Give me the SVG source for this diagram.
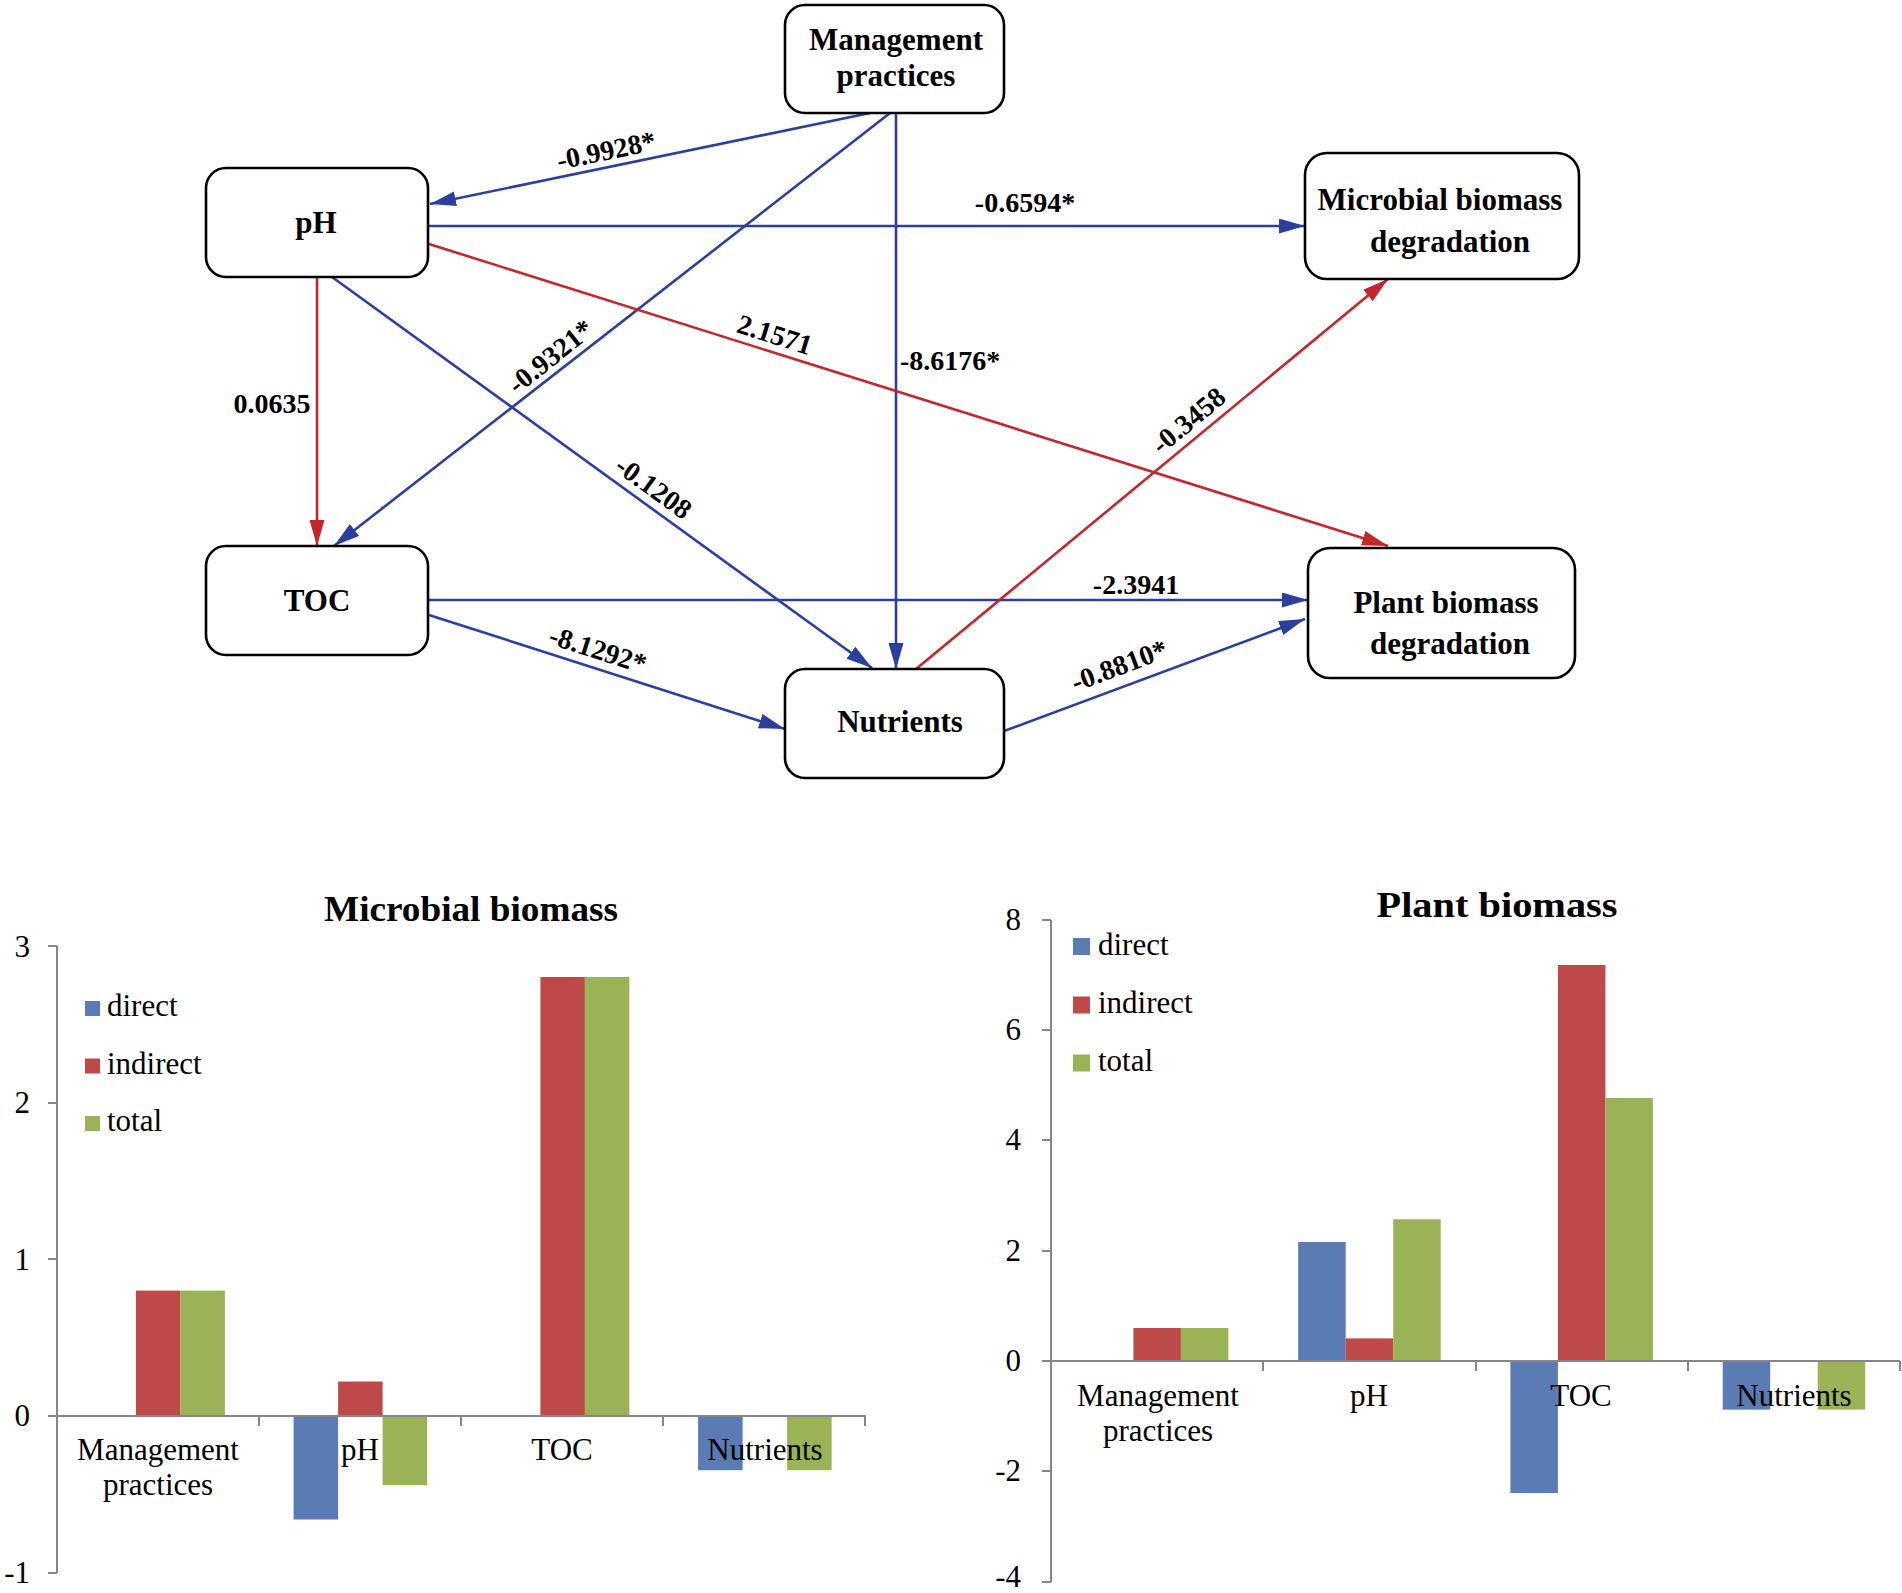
<svg xmlns="http://www.w3.org/2000/svg" width="1902" height="1593" viewBox="0 0 1902 1593">
<defs>
<style>
.box{fill:#fff;stroke:#000;stroke-width:2.6}
.nl{font-family:"Liberation Serif","Times New Roman",serif;font-weight:bold;font-size:31px;fill:#000;text-anchor:middle}
.el{font-family:"Liberation Serif","Times New Roman",serif;font-weight:bold;font-size:28px;fill:#000;text-anchor:middle}
.b{stroke:#2C3F9E;stroke-width:2.6;fill:none}
.r{stroke:#C1272D;stroke-width:2.6;fill:none}
.ct{font-family:"Liberation Serif","Times New Roman",serif;font-size:31px;fill:#000}
.tt{font-family:"Liberation Serif","Times New Roman",serif;font-weight:bold;font-size:36px;fill:#000;text-anchor:middle}
.ax{stroke:#868686;stroke-width:2;fill:none}
.cd{fill:#5A7BB3}
.ci{fill:#BD4A48}
.cg{fill:#9BB357}
</style>
<marker id="ab" markerUnits="userSpaceOnUse" markerWidth="28" markerHeight="16" refX="26" refY="7.5" orient="auto"><path d="M0,0 L26,7.5 L0,15 z" fill="#2C3F9E"/></marker>
<marker id="ar" markerUnits="userSpaceOnUse" markerWidth="28" markerHeight="16" refX="26" refY="7.5" orient="auto"><path d="M0,0 L26,7.5 L0,15 z" fill="#C1272D"/></marker>
</defs>
<rect width="1902" height="1593" fill="#fff"/>

<g id="connectors">
<line class="b" x1="870" y1="113" x2="430" y2="204" marker-end="url(#ab)"/>
<line class="b" x1="890" y1="113" x2="334" y2="546" marker-end="url(#ab)"/>
<line class="b" x1="896" y1="113" x2="896" y2="669" marker-end="url(#ab)"/>
<line class="b" x1="429" y1="226" x2="1305" y2="226" marker-end="url(#ab)"/>
<line class="r" x1="429" y1="244" x2="1388" y2="546" marker-end="url(#ar)"/>
<line class="r" x1="317" y1="277" x2="317" y2="546" marker-end="url(#ar)"/>
<line class="b" x1="332" y1="277" x2="872" y2="668" marker-end="url(#ab)"/>
<line class="b" x1="429" y1="600" x2="1308" y2="600" marker-end="url(#ab)"/>
<line class="b" x1="429" y1="615" x2="785" y2="729" marker-end="url(#ab)"/>
<line class="r" x1="916" y1="669" x2="1388" y2="279" marker-end="url(#ar)"/>
<line class="b" x1="1004" y1="731" x2="1305" y2="619" marker-end="url(#ab)"/>
<text class="el" transform="translate(606,150) rotate(-11.7)" y="10">-0.9928*</text>
<text class="el" transform="translate(550,356) rotate(-38.5)" y="10">-0.9321*</text>
<text class="el" x="900" y="370" style="text-anchor:start">-8.6176*</text>
<text class="el" x="1025" y="212">-0.6594*</text>
<text class="el" transform="translate(775,334) rotate(17.5)" y="10">2.1571</text>
<text class="el" x="272" y="413">0.0635</text>
<text class="el" transform="translate(654,487) rotate(35.9)" y="10">-0.1208</text>
<text class="el" x="1136" y="594">-2.3941</text>
<text class="el" transform="translate(598,649) rotate(17.8)" y="10">-8.1292*</text>
<text class="el" transform="translate(1188,420) rotate(-39.6)" y="10">-0.3458</text>
<text class="el" transform="translate(1119,665) rotate(-20.5)" y="10">-0.8810*</text>
</g>

<g id="node-management">
<rect class="box" x="785" y="5" width="219" height="108" rx="20"/>
<text class="nl" x="896" y="50">Management</text>
<text class="nl" x="896" y="86">practices</text>
</g>
<g id="node-ph">
<rect class="box" x="206" y="168" width="222" height="109" rx="20"/>
<text class="nl" x="316" y="233">pH</text>
</g>
<g id="node-toc">
<rect class="box" x="206" y="546" width="222" height="109" rx="20"/>
<text class="nl" x="317" y="611">TOC</text>
</g>
<g id="node-nutrients">
<rect class="box" x="785" y="669" width="219" height="109" rx="20"/>
<text class="nl" x="900" y="732">Nutrients</text>
</g>
<g id="node-microbial">
<rect class="box" x="1305" y="153" width="274" height="126" rx="22"/>
<text class="nl" x="1440" y="210">Microbial biomass</text>
<text class="nl" x="1450" y="252">degradation</text>
</g>
<g id="node-plant">
<rect class="box" x="1308" y="548" width="267" height="130" rx="22"/>
<text class="nl" x="1446" y="613">Plant biomass</text>
<text class="nl" x="1450" y="654">degradation</text>
</g>

<g id="chart-microbial">
<text class="tt" x="471" y="921" textLength="294" lengthAdjust="spacingAndGlyphs">Microbial biomass</text>
<rect class="ci" x="135.9" y="1290.6" width="44.5" height="125.4"/>
<rect class="cg" x="180.4" y="1290.6" width="44.5" height="125.4"/>
<rect class="cd" x="293.6" y="1416" width="44.5" height="103.5"/>
<rect class="ci" x="338.1" y="1381.5" width="44.5" height="34.5"/>
<rect class="cg" x="382.6" y="1416" width="44.5" height="69"/>
<rect class="ci" x="540.4" y="977" width="44.5" height="439"/>
<rect class="cg" x="584.9" y="977" width="44.5" height="439"/>
<rect class="cd" x="698.1" y="1416" width="44.5" height="54.2"/>
<rect class="cg" x="787.1" y="1416" width="44.5" height="54.2"/>
<path class="ax" d="M57,946 V1573 M48,946 H57 M48,1103 H57 M48,1259 H57 M48,1416 H57 M48,1573 H57 M57,1416 H866 M259,1416 V1426 M461,1416 V1426 M663,1416 V1426 M865,1416 V1426"/>
<g class="ct" style="text-anchor:end">
<text x="30" y="957">3</text>
<text x="30" y="1113">2</text>
<text x="30" y="1270">1</text>
<text x="30" y="1426">0</text>
<text x="30" y="1583">-1</text>
</g>
<g class="ct" style="text-anchor:middle">
<text x="158" y="1460">Management</text>
<text x="158" y="1495">practices</text>
<text x="360" y="1460">pH</text>
<text x="562" y="1460">TOC</text>
<text x="765" y="1460">Nutrients</text>
</g>
<rect class="cd" x="85" y="1001" width="15" height="15"/>
<rect class="ci" x="85" y="1058.5" width="15" height="15"/>
<rect class="cg" x="85" y="1116" width="15" height="15"/>
<text class="ct" x="107" y="1016">direct</text>
<text class="ct" x="107" y="1074">indirect</text>
<text class="ct" x="107" y="1131">total</text>
</g>

<g id="chart-plant">
<text class="tt" x="1497" y="917" textLength="241" lengthAdjust="spacingAndGlyphs">Plant biomass</text>
<rect class="ci" x="1133.4" y="1328" width="47.5" height="33"/>
<rect class="cg" x="1180.9" y="1328" width="47.5" height="33"/>
<rect class="cd" x="1298.2" y="1242" width="47.5" height="119"/>
<rect class="ci" x="1345.7" y="1338.4" width="47.5" height="22.6"/>
<rect class="cg" x="1393.2" y="1219.3" width="47.5" height="141.7"/>
<rect class="cd" x="1510.4" y="1361" width="47.5" height="132"/>
<rect class="ci" x="1557.9" y="965" width="47.5" height="396"/>
<rect class="cg" x="1605.4" y="1098" width="47.5" height="263"/>
<rect class="cd" x="1722.7" y="1361" width="47.5" height="48.6"/>
<rect class="cg" x="1817.7" y="1361" width="47.5" height="48.6"/>
<path class="ax" d="M1051,920 V1582 M1042,920 H1051 M1042,1030 H1051 M1042,1140 H1051 M1042,1251 H1051 M1042,1361 H1051 M1042,1471 H1051 M1042,1582 H1051 M1051,1361 H1900 M1263,1361 V1371 M1476,1361 V1371 M1688,1361 V1371 M1900,1361 V1371"/>
<g class="ct" style="text-anchor:end">
<text x="1021" y="930">8</text>
<text x="1021" y="1040">6</text>
<text x="1021" y="1150">4</text>
<text x="1021" y="1261">2</text>
<text x="1021" y="1371">0</text>
<text x="1021" y="1481">-2</text>
<text x="1021" y="1587">-4</text>
</g>
<g class="ct" style="text-anchor:middle">
<text x="1158" y="1406">Management</text>
<text x="1158" y="1441">practices</text>
<text x="1369" y="1406">pH</text>
<text x="1581" y="1406">TOC</text>
<text x="1794" y="1406">Nutrients</text>
</g>
<rect class="cd" x="1073" y="938" width="17" height="17"/>
<rect class="ci" x="1073" y="996.5" width="17" height="17"/>
<rect class="cg" x="1073" y="1054.5" width="17" height="17"/>
<text class="ct" x="1098" y="955">direct</text>
<text class="ct" x="1098" y="1013">indirect</text>
<text class="ct" x="1098" y="1071">total</text>
</g>
</svg>
